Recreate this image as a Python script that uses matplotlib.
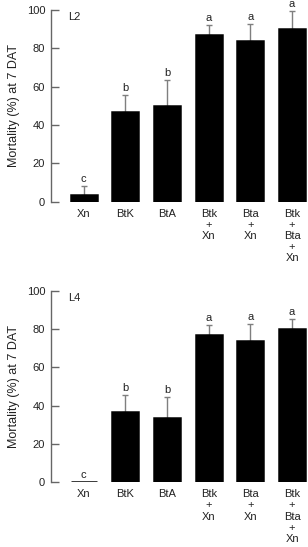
import matplotlib
matplotlib.use("Agg")
import matplotlib.pyplot as plt
import numpy as np

plt.rcParams['font.family'] = ['Liberation Sans', 'DejaVu Sans']

categories = ["Xn", "BtK", "BtA", "Btk\n+\nXn", "Bta\n+\nXn", "Btk\n+\nBta\n+\nXn"]

l2_values = [3.3, 46.8, 50.1, 87.0, 83.7, 90.2]
l2_err = [5.0, 8.9, 13.5, 5.2, 8.8, 9.1]
l2_letters = ["c", "b", "b", "a", "a", "a"]

l4_values = [0.0, 36.8, 33.6, 77.0, 73.7, 80.2]
l4_err = [0.0, 8.9, 11.0, 4.9, 8.7, 5.2]
l4_letters = ["c", "b", "b", "a", "a", "a"]

panels = [("L2", l2_values, l2_err, l2_letters),
          ("L4", l4_values, l4_err, l4_letters)]

W, H = 308, 547
fig = plt.figure(figsize=(W / 100, H / 100), dpi=100)

left = 50.7 / W
width = (307.5 - 50.7) / W
rects = [(1 - 201.7 / H, 191.7 / H), (1 - 482.3 / H, 191.6 / H)]

fs = 8
gray = '#7f7f7f'
spine_c = '#666666'

for (name, vals, errs, letters), (bot, hgt) in zip(panels, rects):
    ax = fig.add_axes([left, bot, width, hgt])
    x = np.arange(len(categories))
    ax.bar(x, vals, width=0.62, color='black', edgecolor='black', linewidth=1.8, zorder=3)
    for xi, v, e, lt in zip(x, vals, errs, letters):
        if e > 0:
            ax.errorbar([xi], [v], yerr=[[0], [e]], fmt='none', ecolor=gray,
                        elinewidth=1.0, capsize=2.2, capthick=1.0, zorder=2)
        ax.annotate(lt, (xi, v + e), xytext=(0, 1.5), textcoords='offset points',
                    ha='center', va='bottom', fontsize=fs, color='#222222')
    ax.set_xlim(-0.79, 5.37)
    ax.set_ylim(0, 100)
    ax.set_yticks([0, 20, 40, 60, 80, 100])
    ax.set_xticks(x)
    ax.set_xticklabels(categories, fontsize=fs, color='#222222', linespacing=1.15)
    ax.tick_params(axis='y', direction='in', length=6, width=1, color=spine_c,
                   labelsize=fs, labelcolor='#222222', pad=4)
    ax.tick_params(axis='x', length=0, pad=5)
    for s in ['top', 'right', 'bottom']:
        ax.spines[s].set_visible(False)
    ax.spines['left'].set_color(spine_c)
    ax.spines['left'].set_linewidth(1)
    ax.text(0.067, 0.963, name, transform=ax.transAxes, ha='left', va='center',
            fontsize=fs, color='#222222')
    ax.patch.set_alpha(0)
    fig.text(14 / W, bot + hgt / 2, "Mortality (%) at 7 DAT", rotation=90,
             ha='center', va='center', fontsize=9, color='#222222')

fig.savefig("out.png", dpi=100)
